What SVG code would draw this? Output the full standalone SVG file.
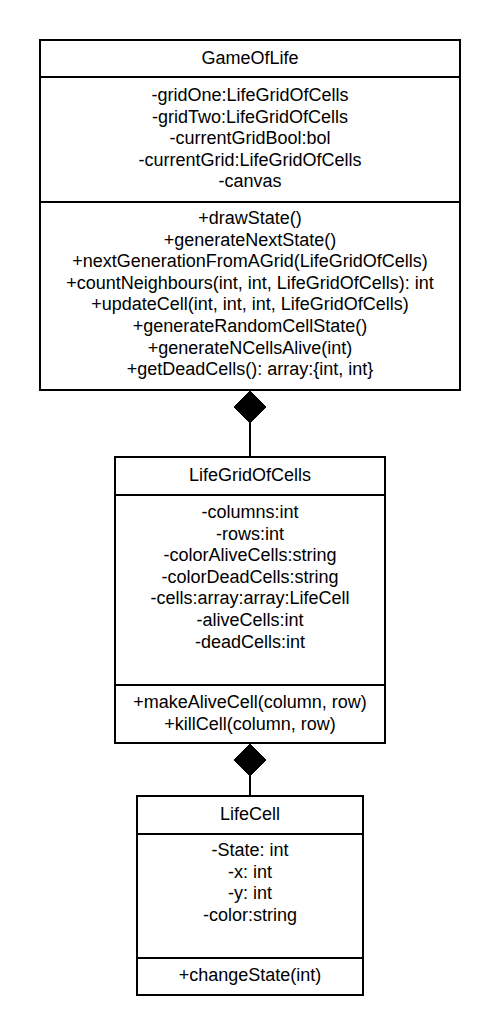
<svg xmlns="http://www.w3.org/2000/svg" width="500" height="1035" viewBox="0 0 500 1035">
<style>
.box{fill:#ffffff;stroke:#000000;stroke-width:2}
.div{stroke:#000000;stroke-width:2;fill:none}
.conn{stroke:#000000;stroke-width:2;fill:none}
.dia{fill:#000000;stroke:#000000;stroke-width:1}
text{font-family:"Liberation Sans",Arial,sans-serif;font-size:18px;fill:#000000;text-anchor:middle}
</style>
<rect width="500" height="1035" fill="#ffffff"/>
<g id="connectors">
<path class="conn" d="M250 423 V457"/>
<path class="dia" d="M250 391 L266 407 L250 423 L234 407 Z"/>
<path class="conn" d="M250 775 V796"/>
<path class="dia" d="M250 744 L266 760 L250 776 L234 760 Z"/>
</g>
<g id="GameOfLife">
<rect class="box" x="40" y="40" width="420" height="350"/>
<path class="div" d="M40 77 H460 M40 202 H460"/>
<text x="250" y="64">GameOfLife</text>
<text x="250" y="101">-gridOne:LifeGridOfCells</text>
<text x="250" y="122.6">-gridTwo:LifeGridOfCells</text>
<text x="250" y="144.2">-currentGridBool:bol</text>
<text x="250" y="165.8">-currentGrid:LifeGridOfCells</text>
<text x="250" y="187.4">-canvas</text>
<text x="250" y="224">+drawState()</text>
<text x="250" y="245.6">+generateNextState()</text>
<text x="250" y="267.2">+nextGenerationFromAGrid(LifeGridOfCells)</text>
<text x="250" y="288.8">+countNeighbours(int, int, LifeGridOfCells): int</text>
<text x="250" y="310.4">+updateCell(int, int, int, LifeGridOfCells)</text>
<text x="250" y="332">+generateRandomCellState()</text>
<text x="250" y="353.6">+generateNCellsAlive(int)</text>
<text x="250" y="375.2">+getDeadCells(): array:{int, int}</text>
</g>
<g id="LifeGridOfCells">
<rect class="box" x="115" y="457" width="270" height="286"/>
<path class="div" d="M115 495 H385 M115 685 H385"/>
<text x="250" y="481">LifeGridOfCells</text>
<text x="250" y="518">-columns:int</text>
<text x="250" y="539.6">-rows:int</text>
<text x="250" y="561.2">-colorAliveCells:string</text>
<text x="250" y="582.8">-colorDeadCells:string</text>
<text x="250" y="604.4">-cells:array:array:LifeCell</text>
<text x="250" y="626">-aliveCells:int</text>
<text x="250" y="647.6">-deadCells:int</text>
<text x="250" y="708">+makeAliveCell(column, row)</text>
<text x="250" y="729.6">+killCell(column, row)</text>
</g>
<g id="LifeCell">
<rect class="box" x="137" y="796" width="226" height="199"/>
<path class="div" d="M137 834 H363 M137 958 H363"/>
<text x="250" y="820">LifeCell</text>
<text x="250" y="856">-State: int</text>
<text x="250" y="877.6">-x: int</text>
<text x="250" y="899.2">-y: int</text>
<text x="250" y="920.8">-color:string</text>
<text x="250" y="981">+changeState(int)</text>
</g>
</svg>
